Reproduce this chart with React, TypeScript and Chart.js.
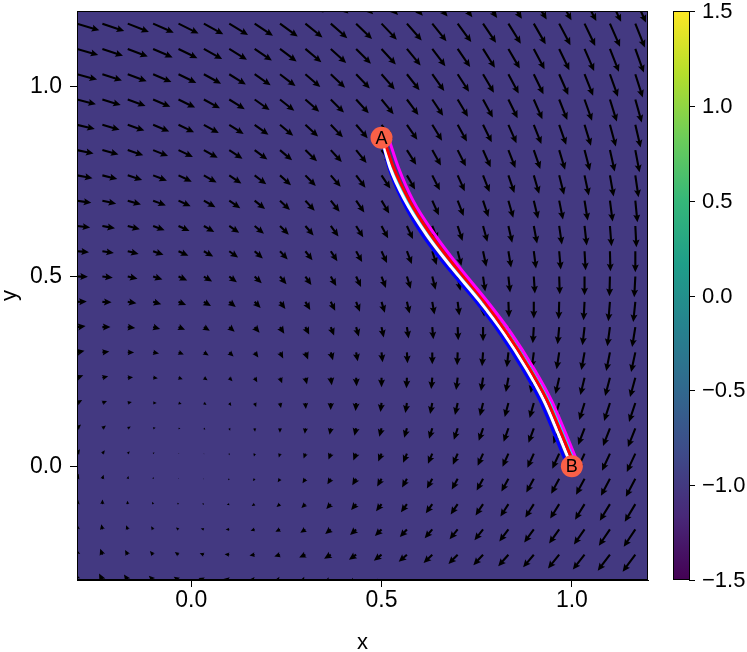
import React, { useEffect, useRef } from "react";
import { Chart, registerables } from "chart.js";

Chart.register(...registerables);

// ---------------- data ----------------
const X_MIN = -0.3;
const X_MAX = 1.2;
const Y_MIN = -0.3;
const Y_MAX = 1.2;
const AXIS_TICKS = [0, 0.5, 1.0];
const COLOR_MIN = -1.5;
const COLOR_MAX = 1.5;
const COLORBAR_TICKS = [-1.5, -1.0, -0.5, 0, 0.5, 1.0, 1.5];
const FIELD_VALUE = -1.0; // value of the background heatmap

// grid of the vector field (x columns, y rows)
const GRID_X = [-0.3, -0.2333, -0.1667, -0.1, -0.0333, 0.0333, 0.1, 0.1667, 0.2333, 0.3, 0.3667, 0.4333, 0.5, 0.5667, 0.6333, 0.7, 0.7667, 0.8333, 0.9, 0.9667, 1.0333, 1.1, 1.1667, 1.2333];
const GRID_Y = [-0.3, -0.2333, -0.1667, -0.1, -0.0333, 0.0333, 0.1, 0.1667, 0.2333, 0.3, 0.3667, 0.4333, 0.5, 0.5667, 0.6333, 0.7, 0.7667, 0.8333, 0.9, 0.9667, 1.0333, 1.1, 1.1667, 1.2333];

// horizontal component, one row per GRID_Y value
const FIELD_U = [
  [-0.28,-0.33,-0.38,-0.43,-0.48,-0.53,-0.58,-0.63,-0.68,-0.73,-0.78,-0.83,-0.88,-0.93,-0.98,-1.03,-1.08,-1.13,-1.18,-1.22,-1.27,-1.32,-1.37,-1.42],
  [-0.17,-0.22,-0.27,-0.32,-0.37,-0.42,-0.47,-0.52,-0.57,-0.62,-0.67,-0.72,-0.77,-0.82,-0.87,-0.92,-0.97,-1.02,-1.07,-1.12,-1.17,-1.22,-1.27,-1.32],
  [-0.06,-0.11,-0.16,-0.21,-0.26,-0.31,-0.36,-0.41,-0.46,-0.51,-0.56,-0.61,-0.66,-0.71,-0.76,-0.81,-0.86,-0.91,-0.96,-1.01,-1.06,-1.11,-1.16,-1.21],
  [0.06,0.01,-0.04,-0.09,-0.14,-0.19,-0.25,-0.30,-0.35,-0.40,-0.45,-0.50,-0.55,-0.60,-0.65,-0.70,-0.75,-0.80,-0.85,-0.90,-0.95,-1.01,-1.06,-1.11],
  [0.17,0.12,0.07,0.02,-0.03,-0.08,-0.13,-0.18,-0.23,-0.29,-0.34,-0.39,-0.44,-0.49,-0.54,-0.59,-0.64,-0.70,-0.75,-0.80,-0.85,-0.90,-0.95,-1.00],
  [0.29,0.24,0.19,0.13,0.08,0.03,-0.02,-0.07,-0.12,-0.18,-0.23,-0.28,-0.33,-0.38,-0.43,-0.48,-0.54,-0.59,-0.64,-0.69,-0.74,-0.79,-0.85,-0.90],
  [0.40,0.35,0.30,0.25,0.19,0.14,0.09,0.04,-0.01,-0.06,-0.12,-0.17,-0.22,-0.27,-0.32,-0.38,-0.43,-0.48,-0.53,-0.58,-0.64,-0.69,-0.74,-0.79],
  [0.52,0.46,0.41,0.36,0.31,0.26,0.20,0.15,0.10,0.05,-0.01,-0.06,-0.11,-0.16,-0.22,-0.27,-0.32,-0.37,-0.42,-0.48,-0.53,-0.58,-0.63,-0.69],
  [0.63,0.58,0.53,0.47,0.42,0.37,0.32,0.26,0.21,0.16,0.10,0.05,0.00,-0.05,-0.11,-0.16,-0.21,-0.26,-0.32,-0.37,-0.42,-0.48,-0.53,-0.58],
  [0.75,0.69,0.64,0.59,0.53,0.48,0.43,0.37,0.32,0.27,0.22,0.16,0.11,0.06,0.00,-0.05,-0.10,-0.16,-0.21,-0.26,-0.32,-0.37,-0.42,-0.48],
  [0.86,0.81,0.75,0.70,0.65,0.59,0.54,0.49,0.43,0.38,0.33,0.27,0.22,0.17,0.11,0.06,0.00,-0.05,-0.10,-0.16,-0.21,-0.26,-0.32,-0.37],
  [0.98,0.92,0.87,0.81,0.76,0.71,0.65,0.60,0.54,0.49,0.44,0.38,0.33,0.27,0.22,0.17,0.11,0.06,0.00,-0.05,-0.10,-0.16,-0.21,-0.26],
  [1.09,1.04,0.98,0.93,0.87,0.82,0.76,0.71,0.65,0.60,0.55,0.49,0.44,0.38,0.33,0.28,0.22,0.17,0.11,0.06,0.00,-0.05,-0.11,-0.16],
  [1.20,1.15,1.09,1.04,0.99,0.93,0.88,0.82,0.77,0.71,0.66,0.60,0.55,0.49,0.44,0.38,0.33,0.27,0.22,0.16,0.11,0.05,0.00,-0.05],
  [1.32,1.26,1.21,1.15,1.10,1.04,0.99,0.93,0.88,0.82,0.77,0.71,0.66,0.60,0.55,0.49,0.44,0.38,0.33,0.27,0.22,0.16,0.11,0.05],
  [1.43,1.38,1.32,1.27,1.21,1.16,1.10,1.04,0.99,0.93,0.88,0.82,0.77,0.71,0.66,0.60,0.54,0.49,0.43,0.38,0.32,0.27,0.21,0.16],
  [1.55,1.49,1.44,1.38,1.32,1.27,1.21,1.16,1.10,1.04,0.99,0.93,0.88,0.82,0.76,0.71,0.65,0.60,0.54,0.49,0.43,0.37,0.32,0.26],
  [1.66,1.61,1.55,1.49,1.44,1.38,1.32,1.27,1.21,1.16,1.10,1.04,0.99,0.93,0.87,0.82,0.76,0.70,0.65,0.59,0.54,0.48,0.42,0.37],
  [1.78,1.72,1.66,1.61,1.55,1.49,1.44,1.38,1.32,1.27,1.21,1.15,1.10,1.04,0.98,0.93,0.87,0.81,0.76,0.70,0.64,0.59,0.53,0.47],
  [1.89,1.83,1.78,1.72,1.66,1.61,1.55,1.49,1.43,1.38,1.32,1.26,1.21,1.15,1.09,1.03,0.98,0.92,0.86,0.81,0.75,0.69,0.64,0.58],
  [2.01,1.95,1.89,1.83,1.78,1.72,1.66,1.60,1.55,1.49,1.43,1.37,1.32,1.26,1.20,1.14,1.09,1.03,0.97,0.91,0.86,0.80,0.74,0.68],
  [2.12,2.06,2.00,1.95,1.89,1.83,1.77,1.72,1.66,1.60,1.54,1.48,1.43,1.37,1.31,1.25,1.19,1.14,1.08,1.02,0.96,0.90,0.85,0.79],
  [2.23,2.18,2.12,2.06,2.00,1.94,1.88,1.83,1.77,1.71,1.65,1.59,1.53,1.48,1.42,1.36,1.30,1.24,1.19,1.13,1.07,1.01,0.95,0.89],
  [2.35,2.29,2.23,2.17,2.11,2.06,2.00,1.94,1.88,1.82,1.76,1.70,1.65,1.59,1.53,1.47,1.41,1.35,1.29,1.23,1.18,1.12,1.06,1.00],
];

// vertical component, one row per GRID_Y value
const FIELD_V = [
  [0.76,0.65,0.54,0.43,0.32,0.21,0.10,-0.01,-0.12,-0.23,-0.34,-0.45,-0.57,-0.68,-0.79,-0.90,-1.01,-1.12,-1.23,-1.34,-1.45,-1.56,-1.67,-1.78],
  [0.70,0.59,0.48,0.37,0.26,0.15,0.04,-0.07,-0.18,-0.29,-0.40,-0.50,-0.61,-0.72,-0.83,-0.94,-1.05,-1.16,-1.27,-1.38,-1.49,-1.60,-1.70,-1.81],
  [0.63,0.52,0.42,0.31,0.20,0.09,-0.01,-0.12,-0.23,-0.34,-0.45,-0.55,-0.66,-0.77,-0.88,-0.98,-1.09,-1.20,-1.31,-1.41,-1.52,-1.63,-1.74,-1.85],
  [0.57,0.46,0.35,0.25,0.14,0.03,-0.07,-0.18,-0.28,-0.39,-0.50,-0.60,-0.71,-0.81,-0.92,-1.03,-1.13,-1.24,-1.35,-1.45,-1.56,-1.66,-1.77,-1.88],
  [0.50,0.40,0.29,0.19,0.08,-0.02,-0.13,-0.23,-0.34,-0.44,-0.55,-0.65,-0.76,-0.86,-0.97,-1.07,-1.18,-1.28,-1.38,-1.49,-1.59,-1.70,-1.80,-1.91],
  [0.44,0.33,0.23,0.13,0.02,-0.08,-0.18,-0.29,-0.39,-0.49,-0.60,-0.70,-0.80,-0.91,-1.01,-1.11,-1.22,-1.32,-1.42,-1.53,-1.63,-1.73,-1.84,-1.94],
  [0.37,0.27,0.17,0.06,-0.04,-0.14,-0.24,-0.34,-0.44,-0.55,-0.65,-0.75,-0.85,-0.95,-1.06,-1.16,-1.26,-1.36,-1.46,-1.56,-1.67,-1.77,-1.87,-1.97],
  [0.30,0.20,0.10,0.00,-0.10,-0.20,-0.30,-0.40,-0.50,-0.60,-0.70,-0.80,-0.90,-1.00,-1.10,-1.20,-1.30,-1.40,-1.50,-1.60,-1.70,-1.80,-1.90,-2.00],
  [0.24,0.14,0.04,-0.06,-0.16,-0.25,-0.35,-0.45,-0.55,-0.65,-0.75,-0.85,-0.95,-1.05,-1.14,-1.24,-1.34,-1.44,-1.54,-1.64,-1.74,-1.84,-1.94,-2.03],
  [0.17,0.08,-0.02,-0.12,-0.22,-0.31,-0.41,-0.51,-0.60,-0.70,-0.80,-0.90,-0.99,-1.09,-1.19,-1.29,-1.38,-1.48,-1.58,-1.68,-1.77,-1.87,-1.97,-2.07],
  [0.11,0.01,-0.08,-0.18,-0.27,-0.37,-0.47,-0.56,-0.66,-0.75,-0.85,-0.95,-1.04,-1.14,-1.23,-1.33,-1.43,-1.52,-1.62,-1.71,-1.81,-1.91,-2.00,-2.10],
  [0.04,-0.05,-0.15,-0.24,-0.33,-0.43,-0.52,-0.62,-0.71,-0.81,-0.90,-0.99,-1.09,-1.18,-1.28,-1.37,-1.47,-1.56,-1.66,-1.75,-1.85,-1.94,-2.03,-2.13],
  [-0.02,-0.11,-0.21,-0.30,-0.39,-0.49,-0.58,-0.67,-0.77,-0.86,-0.95,-1.04,-1.14,-1.23,-1.32,-1.42,-1.51,-1.60,-1.70,-1.79,-1.88,-1.97,-2.07,-2.16],
  [-0.09,-0.18,-0.27,-0.36,-0.45,-0.54,-0.64,-0.73,-0.82,-0.91,-1.00,-1.09,-1.19,-1.28,-1.37,-1.46,-1.55,-1.64,-1.73,-1.83,-1.92,-2.01,-2.10,-2.19],
  [-0.15,-0.24,-0.33,-0.42,-0.51,-0.60,-0.69,-0.78,-0.87,-0.96,-1.05,-1.14,-1.23,-1.32,-1.41,-1.50,-1.59,-1.68,-1.77,-1.86,-1.95,-2.04,-2.13,-2.22],
  [-0.22,-0.31,-0.39,-0.48,-0.57,-0.66,-0.75,-0.84,-0.93,-1.01,-1.10,-1.19,-1.28,-1.37,-1.46,-1.55,-1.63,-1.72,-1.81,-1.90,-1.99,-2.08,-2.17,-2.25],
  [-0.28,-0.37,-0.46,-0.54,-0.63,-0.72,-0.81,-0.89,-0.98,-1.07,-1.15,-1.24,-1.33,-1.42,-1.50,-1.59,-1.68,-1.76,-1.85,-1.94,-2.02,-2.11,-2.20,-2.29],
  [-0.35,-0.43,-0.52,-0.60,-0.69,-0.78,-0.86,-0.95,-1.03,-1.12,-1.20,-1.29,-1.38,-1.46,-1.55,-1.63,-1.72,-1.80,-1.89,-1.98,-2.06,-2.15,-2.23,-2.32],
  [-0.41,-0.50,-0.58,-0.67,-0.75,-0.83,-0.92,-1.00,-1.09,-1.17,-1.26,-1.34,-1.42,-1.51,-1.59,-1.68,-1.76,-1.84,-1.93,-2.01,-2.10,-2.18,-2.27,-2.35],
  [-0.48,-0.56,-0.64,-0.73,-0.81,-0.89,-0.97,-1.06,-1.14,-1.22,-1.31,-1.39,-1.47,-1.55,-1.64,-1.72,-1.80,-1.88,-1.97,-2.05,-2.13,-2.22,-2.30,-2.38],
  [-0.54,-0.63,-0.71,-0.79,-0.87,-0.95,-1.03,-1.11,-1.19,-1.28,-1.36,-1.44,-1.52,-1.60,-1.68,-1.76,-1.85,-1.93,-2.01,-2.09,-2.17,-2.25,-2.33,-2.41],
  [-0.61,-0.69,-0.77,-0.85,-0.93,-1.01,-1.09,-1.17,-1.25,-1.33,-1.41,-1.49,-1.57,-1.65,-1.73,-1.81,-1.89,-1.97,-2.05,-2.13,-2.21,-2.29,-2.37,-2.44],
  [-0.67,-0.75,-0.83,-0.91,-0.99,-1.07,-1.14,-1.22,-1.30,-1.38,-1.46,-1.54,-1.61,-1.69,-1.77,-1.85,-1.93,-2.01,-2.08,-2.16,-2.24,-2.32,-2.40,-2.48],
  [-0.74,-0.82,-0.89,-0.97,-1.05,-1.12,-1.20,-1.28,-1.35,-1.43,-1.51,-1.59,-1.66,-1.74,-1.82,-1.89,-1.97,-2.05,-2.12,-2.20,-2.28,-2.35,-2.43,-2.51],
];

// transition paths from A to B (shared y samples)
const PATH_Y = [0.866, 0.788, 0.700, 0.612, 0.524, 0.437, 0.349, 0.261, 0.174, 0.086, 0.025, 0.0];
const PATH_BLUE_X = [0.500, 0.519, 0.555, 0.606, 0.673, 0.746, 0.812, 0.868, 0.916, 0.954, 0.979, 0.990];
const PATH_CYAN_X = [0.503, 0.527, 0.567, 0.623, 0.692, 0.765, 0.833, 0.890, 0.939, 0.978, 1.005, 1.016];
const PATH_WHITE_X = [0.500, 0.522, 0.562, 0.617, 0.684, 0.756, 0.822, 0.878, 0.926, 0.964, 0.989, 1.000];
const PATH_RED_X = [0.505, 0.531, 0.573, 0.628, 0.695, 0.767, 0.831, 0.887, 0.935, 0.973, 0.998, 1.009];
const PATH_MAGENTA_X = [0.518, 0.544, 0.583, 0.639, 0.705, 0.776, 0.842, 0.898, 0.946, 0.984, 1.009, 1.020];

const END_LABELS = ["A", "B"];
const END_X = [0.5, 1.0];
const END_Y = [0.866, 0.0];

// ---------------- style ----------------
const FONT = "'Liberation Sans', Arial, Helvetica, sans-serif";
const VIRIDIS = ["#440154", "#482878", "#3e4a89", "#31688e", "#26828e", "#1f9e89", "#35b779", "#6dcd59", "#b4de2c", "#fde725"];
const QUIVER_SCALE = 0.02627; // data units per field unit
const SHAFT_W = 2.1;
const HEAD_L = 7.6;
const HEAD_AXIS_L = 6.6;
const HEAD_W = 7;

function hexToRgb(h: string) {
  const n = parseInt(h.slice(1), 16);
  return [(n >> 16) & 255, (n >> 8) & 255, n & 255];
}
function viridis(t: number) {
  const c = Math.max(0, Math.min(1, t)) * (VIRIDIS.length - 1);
  const i = Math.min(VIRIDIS.length - 2, Math.floor(c));
  const f = c - i;
  const a = hexToRgb(VIRIDIS[i]);
  const b = hexToRgb(VIRIDIS[i + 1]);
  const r = a.map((v, k) => Math.round(v + (b[k] - v) * f));
  return `rgb(${r[0]},${r[1]},${r[2]})`;
}

function drawArrow(ctx: CanvasRenderingContext2D, x0: number, y0: number, x1: number, y1: number) {
  const dx = x1 - x0;
  const dy = y1 - y0;
  const L = Math.hypot(dx, dy);
  if (L < 0.4) return;
  let sw = SHAFT_W, hl = HEAD_L, hal = HEAD_AXIS_L, hw = HEAD_W;
  if (L < hl) {
    const k = L / hl;
    sw *= k; hl *= k; hal *= k; hw *= k;
  }
  const ux = dx / L, uy = dy / L, nx = -uy, ny = ux;
  const pts: [number, number][] = [
    [0, -sw / 2], [L - hal, -sw / 2], [L - hl, -hw / 2], [L, 0],
    [L - hl, hw / 2], [L - hal, sw / 2], [0, sw / 2],
  ];
  ctx.beginPath();
  pts.forEach(([t, n], k) => {
    const px = x0 + ux * t + nx * n;
    const py = y0 + uy * t + ny * n;
    if (k === 0) ctx.moveTo(px, py); else ctx.lineTo(px, py);
  });
  ctx.closePath();
  ctx.fill();
}

const fmt = (v: number) => (v < 0 ? "\u2212" : "") + Math.abs(v).toFixed(1);

const fieldPlugin = {
  id: "fieldPlugin",
  beforeDatasetsDraw(chart: any) {
    const { ctx, chartArea: a, scales } = chart;
    const xs = scales.x, ys = scales.y;
    ctx.save();
    ctx.beginPath();
    ctx.rect(a.left, a.top, a.right - a.left, a.bottom - a.top);
    ctx.clip();
    ctx.fillStyle = viridis((FIELD_VALUE - COLOR_MIN) / (COLOR_MAX - COLOR_MIN));
    ctx.fillRect(a.left, a.top, a.right - a.left, a.bottom - a.top);
    ctx.fillStyle = "#000";
    for (let j = 0; j < GRID_Y.length; j++) {
      for (let i = 0; i < GRID_X.length; i++) {
        const gx = GRID_X[i], gy = GRID_Y[j];
        const hx = gx + FIELD_U[j][i] * QUIVER_SCALE;
        const hy = gy + FIELD_V[j][i] * QUIVER_SCALE;
        drawArrow(ctx, xs.getPixelForValue(gx), ys.getPixelForValue(gy), xs.getPixelForValue(hx), ys.getPixelForValue(hy));
      }
    }
    ctx.restore();
  },
  afterDatasetsDraw(chart: any) {
    const { ctx, chartArea: a, scales } = chart;
    const xs = scales.x, ys = scales.y, cb = scales.cb;
    ctx.save();
    // frame
    ctx.strokeStyle = "#000";
    ctx.lineWidth = 1;
    ctx.strokeRect(Math.round(a.left) + 0.5, Math.round(a.top) + 0.5, Math.round(a.right - a.left) - 1, Math.round(a.bottom - a.top) - 1);

    // end point labels
    ctx.fillStyle = "#000";
    ctx.font = `18px ${FONT}`;
    ctx.textAlign = "center";
    ctx.textBaseline = "middle";
    END_LABELS.forEach((t, k) => {
      ctx.fillText(t, xs.getPixelForValue(END_X[k]), ys.getPixelForValue(END_Y[k]) + 1);
    });

    // colorbar
    const cbLeft = a.right + 25;
    const cbW = 16;
    const top = cb.getPixelForValue(COLOR_MAX);
    const bot = cb.getPixelForValue(COLOR_MIN);
    const g = ctx.createLinearGradient(0, bot, 0, top);
    VIRIDIS.forEach((c, k) => g.addColorStop(k / (VIRIDIS.length - 1), c));
    ctx.fillStyle = g;
    ctx.fillRect(cbLeft, top, cbW, bot - top);
    ctx.strokeStyle = "#000";
    ctx.lineWidth = 1;
    ctx.strokeRect(cbLeft + 0.5, Math.round(top) + 0.5, cbW, Math.round(bot - top) - 1);
    ctx.fillStyle = "#000";
    ctx.font = `22px ${FONT}`;
    ctx.textAlign = "left";
    ctx.textBaseline = "middle";
    COLORBAR_TICKS.forEach((v) => {
      const py = Math.round(cb.getPixelForValue(v)) + 0.5;
      ctx.beginPath();
      ctx.moveTo(cbLeft + cbW, py);
      ctx.lineTo(cbLeft + cbW + 6, py);
      ctx.stroke();
      ctx.fillText(fmt(v), cbLeft + cbW + 13, py);
    });

    // axis titles
    ctx.textAlign = "center";
    ctx.fillText("x", (a.left + a.right) / 2, 643);
    ctx.translate(10, (a.top + a.bottom) / 2);
    ctx.rotate(-Math.PI / 2);
    ctx.fillText("y", 0, 0);
    ctx.restore();
  },
};

function pathData(xsArr: number[]) {
  return xsArr.map((x, k) => ({ x, y: PATH_Y[k] }));
}

export default function App() {
  const ref = useRef<HTMLCanvasElement>(null);
  useEffect(() => {
    if (!ref.current) return;
    const line = (label: string, xsArr: number[], color: string, order: number) => ({
      label,
      data: pathData(xsArr),
      showLine: true,
      borderColor: color,
      backgroundColor: color,
      borderWidth: 3,
      pointRadius: 0,
      cubicInterpolationMode: "monotone",
      order,
    });
    const chart = new Chart(ref.current, {
      type: "scatter",
      data: {
        datasets: [
          {
            label: "endpoints",
            data: END_X.map((x, k) => ({ x, y: END_Y[k] })),
            pointRadius: 11,
            pointBackgroundColor: "#fa6047",
            pointBorderWidth: 0,
            showLine: false,
            order: 0,
          } as any,
          line("magenta", PATH_MAGENTA_X, "#ff00ff", 1),
          line("red", PATH_RED_X, "#ff0000", 2),
          line("white", PATH_WHITE_X, "#ffffff", 3),
          line("cyan", PATH_CYAN_X, "#00ffff", 4),
          line("blue", PATH_BLUE_X, "#0000ff", 5),
        ],
      },
      options: {
        animation: false,
        responsive: true,
        maintainAspectRatio: false,
        events: [],
        layout: { padding: { top: 9, right: 99, left: 0, bottom: 0 } },
        plugins: { legend: { display: false }, tooltip: { enabled: false } },
        scales: {
          x: {
            type: "linear",
            position: "bottom",
            min: X_MIN,
            max: X_MAX,
            afterBuildTicks: (s: any) => { s.ticks = AXIS_TICKS.map((v) => ({ value: v })); },
            afterFit: (s: any) => { s.height = 72; s.paddingLeft = 0; s.paddingRight = 0; },
            ticks: { callback: (v: any) => fmt(Number(v)), color: "#000", font: { family: FONT, size: 23 }, padding: 0, maxRotation: 0, autoSkip: false },
            grid: { drawOnChartArea: false, drawTicks: true, tickLength: 7, color: "#000", tickColor: "#000", tickWidth: 1 },
            border: { display: true, color: "#000", width: 1 },
          },
          y: {
            type: "linear",
            position: "left",
            min: Y_MIN,
            max: Y_MAX,
            afterBuildTicks: (s: any) => { s.ticks = AXIS_TICKS.map((v) => ({ value: v })); },
            afterFit: (s: any) => { s.width = 77; s.paddingTop = 0; s.paddingBottom = 0; },
            ticks: { callback: (v: any) => fmt(Number(v)), color: "#000", font: { family: FONT, size: 23 }, padding: 8, autoSkip: false },
            grid: { drawOnChartArea: false, drawTicks: true, tickLength: 7, color: "#000", tickColor: "#000", tickWidth: 1 },
            border: { display: true, color: "#000", width: 1 },
          },
          cb: {
            type: "linear",
            position: "right",
            min: COLOR_MIN,
            max: COLOR_MAX,
            display: false,
          },
        },
      } as any,
      plugins: [fieldPlugin],
    });
    return () => chart.destroy();
  }, []);
  return (
    <div style={{ position: "fixed", left: 0, top: 0, width: 747, height: 652, background: "#fff" }}>
      <canvas ref={ref} />
    </div>
  );
}
